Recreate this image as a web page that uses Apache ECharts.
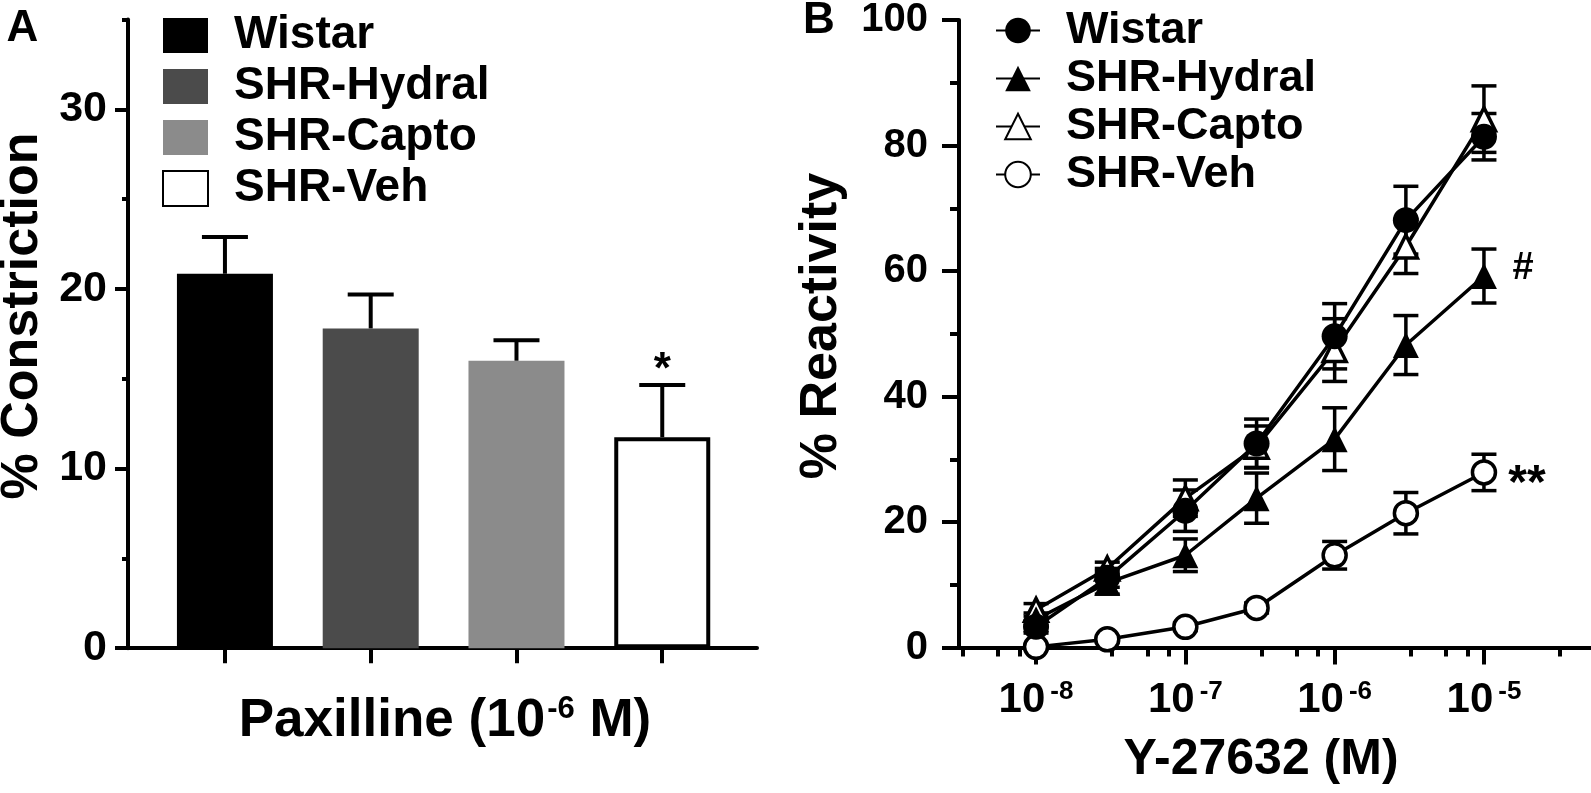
<!DOCTYPE html>
<html><head><meta charset="utf-8">
<script src="https://cdn.jsdelivr.net/npm/echarts@6/dist/echarts.min.js"></script>
<style>html,body{margin:0;padding:0;background:#fff}#c{width:1591px;height:793px}</style>
</head><body><div id="c"></div>
<script>
// ---------- Data: panel A (bars) ----------
const groups = ['Wistar', 'SHR-Hydral', 'SHR-Capto', 'SHR-Veh'];
const meanA = [20.85, 17.8, 16.0, 11.75];
const semA = [2.05, 1.9, 1.15, 2.9];
const sigA = ['', '', '', '*'];
const yTicksA = [0, 10, 20, 30];
const yMinorA = [5, 15, 25, 35];

// ---------- Data: panel B (concentration-response) ----------
const concB = [1e-8, 3e-8, 1e-7, 3e-7, 1e-6, 3e-6, 1e-5];
const wistarMean = [3.3, 11.1, 21.8, 32.5, 49.6, 68.1, 81.4];
const wistarSem = [1.0, 1.5, 3.3, 3.9, 5.2, 5.4, 3.7];
const hydralMean = [4.5, 10.3, 14.7, 23.8, 33.2, 48.2, 59.2];
const hydralSem = [1.0, 1.8, 2.6, 4.0, 5.0, 4.7, 4.3];
const captoMean = [6.0, 12.6, 23.8, 32.0, 47.4, 63.9, 84.2];
const captoSem = [1.0, 1.0, 2.9, 3.3, 5.0, 4.3, 5.3];
const vehMean = [0.1, 1.3, 3.3, 6.3, 14.7, 21.4, 27.9];
const vehSem = [0.4, 0.5, 0.6, 0.8, 2.2, 3.3, 2.9];
const hydralSig = ['', '', '', '', '', '', '#'];
const vehSig = ['', '', '', '', '', '', '**'];
const xTickExpB = [-8, -7, -6, -5];
const yTicksB = [0, 20, 40, 60, 80, 100];

// ---------- Styles ----------
const FONT = 'Liberation Sans, Arial, Helvetica, sans-serif';
const barFill = ['#000000', '#4b4b4b', '#8b8b8b', '#ffffff'];
const minorFrac = [0.51, 0.745, 0.89];
const minorB = [];
for (let e = -9; e <= -5; e++) minorFrac.forEach(f => minorB.push(e + f));
const xMinB = -8.516, xMaxB = -4.283;

function errSeries(name, xIdx, yIdx, xs, means, sems, capW, lw, both, sigs, sigFont, sigDx, sigDy) {
  return {
    name: name, type: 'custom', xAxisIndex: xIdx, yAxisIndex: yIdx, z: 1, silent: true,
    encode: {x: 0, y: 1},
    data: xs.map((x, i) => [x, means[i], sems[i], i]),
    renderItem: function (params, api) {
      const x = api.value(0), m = api.value(1), s = api.value(2), i = api.value(3);
      const pt = api.coord([x, m + s]);
      const pb = both ? api.coord([x, m - s]) : api.coord([x, m]);
      const st = {stroke: '#000', lineWidth: lw, fill: null};
      const ch = [
        {type: 'line', shape: {x1: pt[0], y1: pt[1], x2: pb[0], y2: pb[1]}, style: st},
        {type: 'line', shape: {x1: pt[0] - capW / 2, y1: pt[1], x2: pt[0] + capW / 2, y2: pt[1]}, style: st}
      ];
      if (both) ch.push({type: 'line', shape: {x1: pb[0] - capW / 2, y1: pb[1], x2: pb[0] + capW / 2, y2: pb[1]}, style: st});
      if (sigs && sigs[i]) {
        const ref = both ? api.coord([x, m]) : pt;
        ch.push({type: 'text', x: ref[0] + sigDx, y: ref[1] + sigDy,
          style: {text: sigs[i], font: 'bold ' + sigFont + 'px ' + FONT, fill: '#000', align: 'center', verticalAlign: 'middle'}});
      }
      return {type: 'group', children: ch};
    }
  };
}

const series = [];
// Panel A bars
groups.forEach((g, i) => {
  series.push({
    name: 'A|' + g, type: 'bar', xAxisIndex: 0, yAxisIndex: 0, barWidth: 96, barGap: '-100%', z: 2,
    data: [[i, meanA[i]]],
    itemStyle: i === 3 ? {color: barFill[i], borderColor: '#000', borderWidth: 4} : {color: barFill[i]}
  });
});
series.push(errSeries('errA', 0, 0, groups.map((g, i) => i), meanA, semA, 46, 4, false, sigA, 44, 0, -14));

// Panel B
const logX = concB.map(c => Math.log10(c));
const bDefs = [
  {g: 'SHR-Veh', mean: vehMean, sem: vehSem, symbol: 'circle', size: 23, fill: '#fff', sig: vehSig, dx: 43, dy: 12, font: 48},
  {g: 'SHR-Capto', mean: captoMean, sem: captoSem, symbol: 'triangle', size: 23, fill: '#fff'},
  {g: 'SHR-Hydral', mean: hydralMean, sem: hydralSem, symbol: 'triangle', size: 26, fill: '#000', sig: hydralSig, dx: 39, dy: -8, font: 38},
  {g: 'Wistar', mean: wistarMean, sem: wistarSem, symbol: 'circle', size: 26, fill: '#000'}
];
bDefs.forEach(d => {
  series.push(errSeries('err' + d.g, 1, 2, logX, d.mean, d.sem, 25, 3.5, true, d.sig, d.font, d.dx, d.dy));
});
bDefs.forEach(d => {
  series.push({
    name: 'B|' + d.g, type: 'line', xAxisIndex: 1, yAxisIndex: 2, z: 3,
    data: logX.map((x, i) => [x, d.mean[i]]),
    symbol: d.symbol, symbolSize: d.size, showAllSymbol: true,
    lineStyle: {color: '#000', width: 3.5},
    itemStyle: d.fill === '#fff' ? {color: '#fff', borderColor: '#000', borderWidth: 3.5, opacity: 1} : {color: '#000', borderWidth: 0, opacity: 1},
    emphasis: {disabled: true}
  });
});

const axisLineStyle = {color: '#000', width: 4};
const tickLabel = (size) => ({color: '#000', fontFamily: FONT, fontWeight: 'bold', fontSize: size});

const option = {
  animation: false,
  backgroundColor: '#fff',
  grid: [
    {left: 128, top: 19.6, width: 629, height: 628.6, containLabel: false},
    {left: 959, top: 20, right: 0, height: 627.5, containLabel: false}
  ],
  xAxis: [
    {type: 'value', gridIndex: 0, min: -0.665, max: 3.65, position: 'bottom',
     axisLine: {onZero: false, lineStyle: axisLineStyle}, splitLine: {show: false},
     axisTick: {customValues: [0, 1, 2, 3], length: 15, lineStyle: {width: 4, color: '#000'}},
     axisLabel: {show: false}},
    {type: 'value', gridIndex: 1, min: xMinB, max: xMaxB, position: 'bottom',
     axisLine: {onZero: false, lineStyle: axisLineStyle}, splitLine: {show: false},
     axisTick: {customValues: xTickExpB, length: 17, lineStyle: {width: 4, color: '#000'}},
     axisLabel: {customValues: xTickExpB, margin: 31,
       formatter: v => '{b|10}{s|' + Math.round(v) + '}',
       rich: {b: tickLabel(42), s: Object.assign(tickLabel(26), {padding: [0, 0, 18, 5]})}}},
    {type: 'value', gridIndex: 1, min: xMinB, max: xMaxB, position: 'bottom',
     axisLine: {show: false, onZero: false}, splitLine: {show: false},
     axisTick: {customValues: minorB, length: 9, lineStyle: {width: 4, color: '#000'}},
     axisLabel: {show: false}}
  ],
  yAxis: [
    {type: 'value', gridIndex: 0, min: 0, max: 35, position: 'left',
     axisLine: {show: true, onZero: false, lineStyle: axisLineStyle}, splitLine: {show: false},
     axisTick: {show: true, customValues: yTicksA, length: 13, lineStyle: {width: 4, color: '#000'}},
     axisLabel: Object.assign(tickLabel(43), {customValues: yTicksA, margin: 21})},
    {type: 'value', gridIndex: 0, min: 0, max: 35, position: 'left',
     axisLine: {show: false, onZero: false}, splitLine: {show: false},
     axisTick: {show: true, customValues: yMinorA, length: 6, lineStyle: {width: 4, color: '#000'}},
     axisLabel: {show: false}},
    {type: 'value', gridIndex: 1, min: 0, max: 100, interval: 20, position: 'left',
     axisLine: {show: true, onZero: false, lineStyle: axisLineStyle}, splitLine: {show: false},
     axisTick: {show: true, length: 17, lineStyle: {width: 4, color: '#000'}},
     minorTick: {show: true, splitNumber: 2, length: 9, lineStyle: {width: 4, color: '#000'}},
     axisLabel: Object.assign(tickLabel(40), {margin: 31})}
  ],
  legend: [
    {orient: 'vertical', left: 157, top: 7.5, itemWidth: 45, itemHeight: 35, itemGap: 5,
     data: groups.map(g => 'A|' + g), icon: 'rect', selectedMode: false,
     formatter: n => n.slice(2),
     textStyle: {fontFamily: FONT, fontWeight: 'bold', fontSize: 46, color: '#000', lineHeight: 40, padding: [0, 0, 0, 21]}},
    {orient: 'vertical', left: 990, top: 3, itemWidth: 44, itemHeight: 32, itemGap: 3,
     data: ['Wistar', 'SHR-Hydral', 'SHR-Capto', 'SHR-Veh'].map(g => 'B|' + g), selectedMode: false,
     formatter: n => n.slice(2),
     textStyle: {fontFamily: FONT, fontWeight: 'bold', fontSize: 45, color: '#000', lineHeight: 40, padding: [0, 0, 0, 21]}}
  ],
  graphic: [
    {type: 'text', x: 22.5, y: 29, style: {text: 'A', font: 'bold 44px ' + FONT, fill: '#000', align: 'center', verticalAlign: 'middle'}},
    {type: 'text', x: 819, y: 21, style: {text: 'B', font: 'bold 44px ' + FONT, fill: '#000', align: 'center', verticalAlign: 'middle'}},
    {type: 'text', x: 23, y: 316, rotation: Math.PI / 2, style: {text: '% Constriction', font: 'bold 52px ' + FONT, fill: '#000', align: 'center', verticalAlign: 'middle'}},
    {type: 'text', x: 822, y: 326, rotation: Math.PI / 2, style: {text: '% Reactivity', font: 'bold 52px ' + FONT, fill: '#000', align: 'center', verticalAlign: 'middle'}},
    {type: 'text', x: 445, y: 721, style: {text: '{t|Paxilline (10}{s|-6}{t| M)}', align: 'center', verticalAlign: 'middle',
      rich: {t: {font: 'bold 53px ' + FONT, fill: '#000'}, s: {font: 'bold 31px ' + FONT, fill: '#000', padding: [0, 0, 23, 2]}}}},
    {type: 'text', x: 1261, y: 760, style: {text: 'Y-27632 (M)', font: 'bold 50px ' + FONT, fill: '#000', align: 'center', verticalAlign: 'middle'}}
  ],
  series: series
};
const chart = echarts.init(document.getElementById('c'));
chart.setOption(option);
</script>
</body></html>
